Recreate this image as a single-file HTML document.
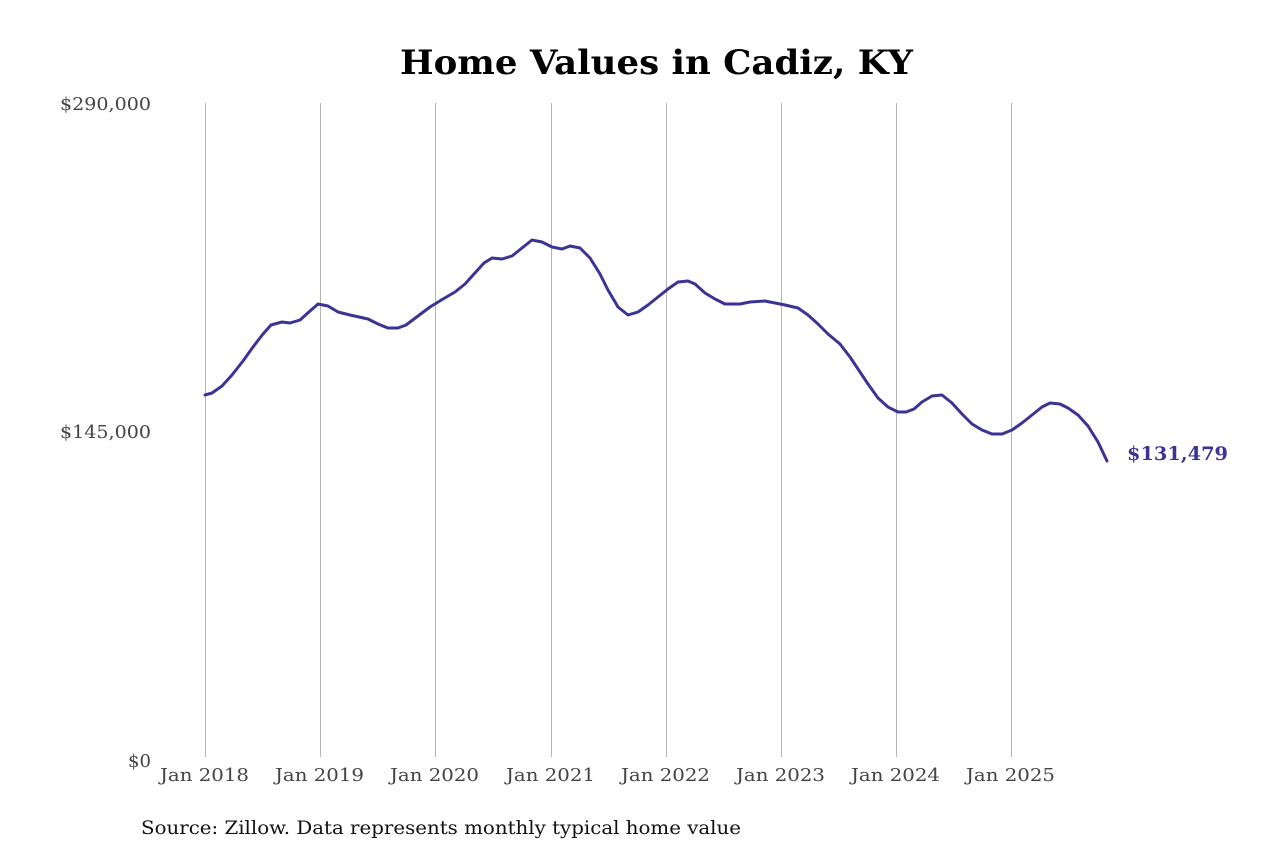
<!DOCTYPE html>
<html><head><meta charset="utf-8"><style>
html,body{margin:0;padding:0;background:#fff;}
svg{display:block;font-family:"DejaVu Serif","Liberation Serif",serif;}
</style></head><body>
<svg width="1280" height="853" viewBox="0 0 1280 853" xmlns="http://www.w3.org/2000/svg">
<rect width="1280" height="853" fill="#fff"/>
<text x="400" y="74" font-size="34" font-weight="bold" fill="#000" textLength="513" lengthAdjust="spacingAndGlyphs">Home Values in Cadiz, KY</text>
<g stroke="#b5b5b5" stroke-width="1">
<line x1="205.5" y1="103" x2="205.5" y2="757"/>
<line x1="320.5" y1="103" x2="320.5" y2="757"/>
<line x1="435.5" y1="103" x2="435.5" y2="757"/>
<line x1="551.5" y1="103" x2="551.5" y2="757"/>
<line x1="666.5" y1="103" x2="666.5" y2="757"/>
<line x1="781.5" y1="103" x2="781.5" y2="757"/>
<line x1="896.5" y1="103" x2="896.5" y2="757"/>
<line x1="1011.5" y1="103" x2="1011.5" y2="757"/>
</g>
<g font-size="18" fill="#444">
<text x="60" y="110" textLength="91" lengthAdjust="spacingAndGlyphs">$290,000</text>
<text x="60" y="438" textLength="91" lengthAdjust="spacingAndGlyphs">$145,000</text>
<text x="128" y="767" textLength="23" lengthAdjust="spacingAndGlyphs">$0</text>
</g>
<g font-size="18" fill="#444">
<text x="160" y="781" textLength="89" lengthAdjust="spacingAndGlyphs">Jan 2018</text>
<text x="275" y="781" textLength="89" lengthAdjust="spacingAndGlyphs">Jan 2019</text>
<text x="390" y="781" textLength="89" lengthAdjust="spacingAndGlyphs">Jan 2020</text>
<text x="506" y="781" textLength="89" lengthAdjust="spacingAndGlyphs">Jan 2021</text>
<text x="621" y="781" textLength="89" lengthAdjust="spacingAndGlyphs">Jan 2022</text>
<text x="736" y="781" textLength="89" lengthAdjust="spacingAndGlyphs">Jan 2023</text>
<text x="851" y="781" textLength="89" lengthAdjust="spacingAndGlyphs">Jan 2024</text>
<text x="966" y="781" textLength="89" lengthAdjust="spacingAndGlyphs">Jan 2025</text>
</g>
<polyline fill="none" stroke="#3b3494" stroke-width="3" stroke-linejoin="round" stroke-linecap="round" points="205,395 212,393 222,386 232,375 243,361 253,347 263,334 271,325 282,322 290,323 300,320 310,311 318,304 328,306 338,312 350,315 368,319 378,324 388,328 398,328 406,325 418,316 430,307 443,299 455,292 465,284 474,274 484,263 492,258 502,259 512,256 522,248 532,240 542,242 552,247 562,249 570,246 580,248 590,258 600,274 608,290 618,307 628,315 638,312 648,305 658,297 668,289 678,282 688,281 695,284 705,293 715,299 725,304 740,304 750,302 765,301 775,303 785,305 798,308 808,315 818,324 828,334 840,344 850,357 858,369 868,384 878,398 888,407 898,412 906,412 914,409 922,402 932,396 942,395 952,403 962,414 972,424 982,430 992,434 1002,434 1012,430 1022,423 1032,415 1042,407 1050,403 1060,404 1068,408 1078,415 1088,426 1098,442 1107,461"/>
<text x="1127" y="460" font-size="19" font-weight="bold" fill="#3b3494" textLength="101" lengthAdjust="spacingAndGlyphs">$131,479</text>
<text x="141" y="834" font-size="19" fill="#111" textLength="600" lengthAdjust="spacingAndGlyphs">Source: Zillow. Data represents monthly typical home value</text>
</svg>
</body></html>
